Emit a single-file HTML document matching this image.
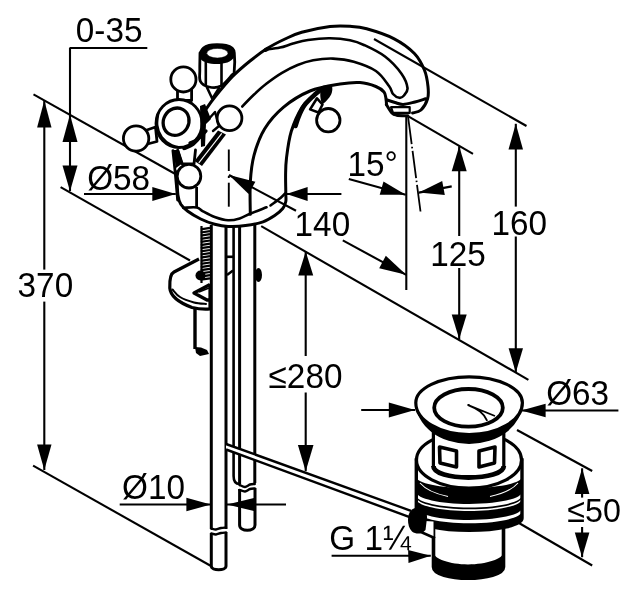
<!DOCTYPE html>
<html><head><meta charset="utf-8"><style>
html,body{margin:0;padding:0;background:#fff;}
svg{display:block;will-change:transform;}
text{font-family:"Liberation Sans",sans-serif;fill:#000;}
</style></head><body>
<svg width="639" height="600" viewBox="0 0 639 600">
<rect width="639" height="600" fill="#fff"/>
<line x1="33.5" y1="94.4" x2="178.0" y2="175.5" stroke="#000" stroke-width="2.1" />
<line x1="60.6" y1="187.2" x2="190.0" y2="260.5" stroke="#000" stroke-width="2.1" />
<line x1="33.1" y1="465.6" x2="211.0" y2="566.0" stroke="#000" stroke-width="2.1" />
<line x1="69.5" y1="48.0" x2="147.3" y2="48.0" stroke="#000" stroke-width="2.1" />
<line x1="70.0" y1="48.0" x2="70.0" y2="191.0" stroke="#000" stroke-width="2.1" />
<line x1="44.3" y1="100.6" x2="44.3" y2="269.6" stroke="#000" stroke-width="2.1" />
<line x1="44.3" y1="301.6" x2="44.3" y2="470.0" stroke="#000" stroke-width="2.1" />
<polygon points="44.3,100.6 51.5,127.5 37.1,127.5" fill="#000"/>
<polygon points="44.3,470.0 37.1,444.4 51.5,444.4" fill="#000"/>
<polygon points="70.0,114.4 77.5,142.0 62.5,142.0" fill="#000"/>
<polygon points="70.0,191.2 62.5,165.6 77.5,165.6" fill="#000"/>
<line x1="84.0" y1="194.0" x2="175.8" y2="194.0" stroke="#000" stroke-width="2.1" />
<polygon points="175.8,194.0 152.3,201.0 152.3,187.0" fill="#000"/>
<line x1="286.5" y1="194.0" x2="341.4" y2="194.0" stroke="#000" stroke-width="2.1" />
<polygon points="286.5,194.0 307.6,187.0 307.6,201.0" fill="#000"/>
<line x1="229.0" y1="175.0" x2="296.0" y2="210.8" stroke="#000" stroke-width="2.1" />
<line x1="342.8" y1="240.4" x2="406.2" y2="274.8" stroke="#000" stroke-width="2.1" />
<polygon points="229.0,175.0 255.4,181.7 248.6,193.9" fill="#000"/>
<polygon points="406.2,274.8 379.2,268.2 385.8,255.8" fill="#000"/>
<line x1="406.3" y1="116.0" x2="406.3" y2="290.0" stroke="#000" stroke-width="2.1" />
<line x1="408.1" y1="117" x2="420.5" y2="211.5" stroke="#000" stroke-width="1.8" stroke-dasharray="27.4,2.6,1.6,2.6"/>
<line x1="348.8" y1="179.0" x2="405.7" y2="194.8" stroke="#000" stroke-width="2.1" />
<polygon points="405.7,194.8 379.7,194.8 383.5,181.4" fill="#000"/>
<line x1="418.9" y1="192.6" x2="451.7" y2="186.4" stroke="#000" stroke-width="2.1" />
<polygon points="418.9,192.6 442.2,181.1 444.8,194.9" fill="#000"/>
<line x1="374.0" y1="39.0" x2="526.5" y2="126.0" stroke="#000" stroke-width="2.1" />
<line x1="408.8" y1="116.6" x2="473.0" y2="153.8" stroke="#000" stroke-width="2.1" />
<line x1="515.8" y1="123.8" x2="515.8" y2="206.6" stroke="#000" stroke-width="2.1" />
<line x1="515.8" y1="236.5" x2="515.8" y2="372.5" stroke="#000" stroke-width="2.1" />
<polygon points="515.8,123.8 523.0,149.5 508.5,149.5" fill="#000"/>
<polygon points="515.8,372.5 508.6,348.2 523.0,348.2" fill="#000"/>
<line x1="459.2" y1="146.2" x2="459.2" y2="236.0" stroke="#000" stroke-width="2.1" />
<line x1="459.2" y1="268.0" x2="459.2" y2="339.0" stroke="#000" stroke-width="2.1" />
<polygon points="459.2,146.2 466.7,171.2 451.7,171.2" fill="#000"/>
<polygon points="459.2,339.0 451.7,314.5 466.7,314.5" fill="#000"/>
<line x1="261.2" y1="226.2" x2="528.4" y2="379.8" stroke="#000" stroke-width="2.1" />
<line x1="305.7" y1="251.5" x2="305.7" y2="356.0" stroke="#000" stroke-width="2.1" />
<line x1="305.7" y1="392.5" x2="305.7" y2="471.2" stroke="#000" stroke-width="2.1" />
<polygon points="305.7,251.5 313.2,275.5 298.2,275.5" fill="#000"/>
<polygon points="305.7,471.2 297.9,445.0 313.5,445.0" fill="#000"/>
<line x1="361.2" y1="410.0" x2="415.0" y2="410.0" stroke="#000" stroke-width="2.1" />
<polygon points="415.0,410.0 388.8,417.5 388.8,402.5" fill="#000"/>
<line x1="521.2" y1="410.5" x2="618.4" y2="410.5" stroke="#000" stroke-width="2.1" />
<polygon points="521.2,410.5 545.6,403.7 545.6,417.3" fill="#000"/>
<line x1="119.7" y1="504.5" x2="210.8" y2="504.5" stroke="#000" stroke-width="2.1" />
<polygon points="210.8,504.5 186.4,511.3 186.4,497.7" fill="#000"/>
<line x1="227.0" y1="504.5" x2="286.0" y2="504.5" stroke="#000" stroke-width="2.1" />
<polygon points="227.0,504.5 255.0,497.7 255.0,511.3" fill="#000"/>
<line x1="331.6" y1="555.8" x2="430.8" y2="555.8" stroke="#000" stroke-width="2.1" />
<polygon points="430.8,555.8 408.5,563.1 408.1,549.9" fill="#000"/>
<line x1="582.1" y1="468.3" x2="582.1" y2="497.6" stroke="#000" stroke-width="2.1" />
<line x1="582.1" y1="527.0" x2="582.1" y2="557.2" stroke="#000" stroke-width="2.1" />
<polygon points="582.1,468.3 589.4,494.0 574.8,494.0" fill="#000"/>
<polygon points="582.1,557.2 574.8,532.5 589.4,532.5" fill="#000"/>
<line x1="517.0" y1="430.0" x2="592.2" y2="471.0" stroke="#000" stroke-width="2.1" />
<line x1="512.0" y1="519.0" x2="592.2" y2="565.5" stroke="#000" stroke-width="2.1" />
<text transform="translate(75.8,42.1) scale(1,1.045)" font-size="33.3">0-35</text>
<text transform="translate(87.2,189.8) scale(1,1.045)" font-size="33.3">&#216;58</text>
<text transform="translate(17.6,297.0) scale(1,1.045)" font-size="33.3">370</text>
<text transform="translate(347.4,175.6) scale(1,1.045)" font-size="33.3">15°</text>
<text transform="translate(294.6,235.6) scale(1,1.045)" font-size="33.3">140</text>
<text transform="translate(430.3,265.6) scale(1,1.045)" font-size="33.3">125</text>
<text transform="translate(491.4,235.0) scale(1,1.045)" font-size="33.3">160</text>
<text transform="translate(268.6,387.5) scale(1,1.045)" font-size="33.3">&#8804;280</text>
<text transform="translate(546.2,405.3) scale(1,1.045)" font-size="33.3">&#216;63</text>
<text transform="translate(122.0,498.7) scale(1,1.045)" font-size="33.3">&#216;10</text>
<text transform="translate(329.3,549.5) scale(1,1.045)" font-size="33.3">G 1&#188;</text>
<text transform="translate(567.3,522.0) scale(1,1.045)" font-size="32.3">&#8804;50</text>
<path d="M205.5 110.0 C207.0 107.9 210.0 103.1 214.5 97.5 C219.0 91.9 226.6 82.6 232.5 76.5 C238.4 70.4 244.2 65.7 250.0 61.0 C255.8 56.4 261.2 52.3 267.0 48.6 C272.8 44.9 279.2 41.7 285.0 39.0 C290.8 36.3 294.2 34.4 301.7 32.3 C309.2 30.2 321.9 27.5 330.0 26.5 C338.1 25.5 343.9 25.9 350.0 26.3 C356.1 26.7 359.3 26.7 366.7 28.8 C374.1 30.9 386.2 34.7 394.2 38.8 C402.1 42.9 409.4 48.3 414.4 53.5 C419.4 58.7 422.1 64.5 424.4 70.0 C426.7 75.5 427.5 81.7 428.0 86.5 C428.5 91.3 428.8 94.9 427.6 98.8 C426.4 102.7 423.5 107.6 421.0 110.0 C418.5 112.4 414.0 112.5 412.6 113.0" fill="none" stroke="#000" stroke-width="3.0" stroke-linecap="round" stroke-linejoin="round" />
<path d="M266.0 49.5 C268.3 49.2 275.5 48.6 280.0 47.6 C284.5 46.6 288.3 44.9 293.0 43.6 C297.7 42.3 301.8 40.9 308.0 40.0 C314.2 39.1 323.0 38.2 330.0 38.3 C337.0 38.3 344.2 39.1 350.0 40.3 C355.8 41.4 358.7 42.5 364.5 45.2 C370.3 47.9 378.8 51.8 385.0 56.5 C391.2 61.2 397.8 68.5 401.5 73.7 C405.2 79.0 407.1 84.4 407.5 88.0 C407.9 91.6 405.4 93.9 404.0 95.5 C402.6 97.1 401.2 98.0 399.4 97.8 C397.6 97.5 394.7 96.0 393.0 94.0 C391.3 92.0 391.9 89.8 389.0 86.0 C386.1 82.2 381.8 75.0 375.9 71.0 C370.0 67.0 360.9 63.9 353.8 61.8 C346.7 59.7 339.8 58.9 333.0 58.6 C326.2 58.4 319.1 59.2 313.2 60.3 C307.3 61.4 302.8 62.9 297.6 65.0 C292.4 67.1 287.2 69.8 282.0 72.9 C276.8 76.0 271.0 80.2 266.3 83.8 C261.6 87.4 257.8 91.0 253.8 94.8 C249.8 98.6 244.2 104.5 242.3 106.5" fill="none" stroke="#000" stroke-width="2.6" stroke-linecap="round" stroke-linejoin="round" />
<path d="M386.5 104.5 C386.4 103.5 386.4 100.9 386.0 98.8 C385.6 96.7 385.7 94.0 384.0 92.0 C382.3 90.0 379.9 88.1 375.9 86.5 C371.9 84.9 366.0 82.9 360.0 82.5 C354.0 82.1 348.3 82.6 340.0 84.0 C331.7 85.4 319.4 87.1 310.0 91.0 C300.6 94.9 290.9 101.0 283.3 107.3 C275.8 113.6 269.6 120.7 264.7 128.7 C259.8 136.7 256.4 146.4 254.0 155.3 C251.6 164.2 250.9 172.2 250.3 182.0 C249.7 191.8 250.3 208.9 250.3 214.3" fill="none" stroke="#000" stroke-width="3.0" stroke-linecap="round" stroke-linejoin="round" />
<path d="M386.3 99.7 C387.8 100.2 392.2 101.7 395.0 102.5 C397.8 103.3 399.9 104.5 403.2 104.4 C406.5 104.3 411.2 102.9 415.0 102.0 C418.8 101.1 423.9 99.3 425.7 98.8" fill="none" stroke="#000" stroke-width="3.0" stroke-linecap="round" stroke-linejoin="round" />
<path d="M386.3 104.4 C387.2 105.8 390.2 111.1 391.9 112.9 C393.6 114.7 393.9 114.7 396.6 115.2 C399.3 115.7 406.0 115.6 407.9 115.7" fill="none" stroke="#000" stroke-width="3.0" stroke-linecap="round" stroke-linejoin="round" />
<polygon points="391.0,107.2 409.7,107.2 409.7,112.9 393.0,112.9" fill="none" stroke="#000" stroke-width="2.2" stroke-linejoin="round" stroke-linecap="round"/>
<path d="M320.7 89.7 C319.3 90.9 315.4 93.9 312.3 96.8 C309.2 99.7 305.5 101.5 302.0 107.3 C298.5 113.0 293.9 122.9 291.3 131.3 C288.7 139.8 287.4 150.7 286.5 158.0 C285.6 165.3 285.7 169.1 285.6 175.0 C285.5 180.9 285.8 188.9 285.8 193.3 C285.8 197.7 286.3 199.0 285.8 201.5 C285.3 204.0 284.7 206.2 282.8 208.5 C280.9 210.8 278.0 213.3 274.7 215.5 C271.4 217.7 267.9 220.1 263.0 221.8 C258.1 223.5 251.3 224.8 245.5 225.6 C239.7 226.4 233.1 226.6 228.0 226.4 C222.9 226.2 219.2 225.4 214.7 224.2 C210.1 223.0 205.2 221.2 200.7 219.0 C196.2 216.8 191.1 213.8 187.8 211.3 C184.5 208.9 182.5 207.0 180.8 204.3 C179.2 201.6 178.6 200.4 177.9 195.0 C177.2 189.6 177.0 175.6 176.8 171.7" fill="none" stroke="#000" stroke-width="3.0" stroke-linecap="round" stroke-linejoin="round" />
<path d="M183.2 207.8 C185.4 207.8 193.3 206.9 196.6 207.5 C199.9 208.1 200.0 209.7 203.0 211.3 C206.0 212.9 210.5 215.5 214.7 217.0 C218.9 218.5 223.8 220.1 228.0 220.3 C232.2 220.5 235.8 219.6 239.7 218.4 C243.6 217.2 246.8 215.0 251.3 213.2 C255.8 211.3 264.0 208.3 266.5 207.3" fill="none" stroke="#000" stroke-width="2.6" stroke-linecap="round" stroke-linejoin="round" />
<path d="M270.5 205.5 C272.2 204.2 278.1 200.0 280.5 198.0 C282.9 196.0 284.4 194.1 285.2 193.3" fill="none" stroke="#000" stroke-width="2.6" stroke-linecap="round" stroke-linejoin="round" />
<line x1="196.6" y1="187.0" x2="196.6" y2="207.5" stroke="#000" stroke-width="2.8" />
<line x1="228.8" y1="149.5" x2="228.8" y2="171.0" stroke="#000" stroke-width="1.9" />
<line x1="228.8" y1="175.8" x2="228.8" y2="178.0" stroke="#000" stroke-width="1.9" />
<line x1="228.8" y1="182.7" x2="228.8" y2="206.7" stroke="#000" stroke-width="1.9" />
<ellipse cx="266.5" cy="49.5" rx="3.6" ry="1.9" fill="#000" transform="rotate(-28 266.5 49.5)"/>
<path d="M200.0 53.0 C200.6 52.2 202.0 49.3 203.5 48.0 C205.0 46.7 206.8 45.9 209.0 45.3 C211.2 44.7 214.2 44.6 217.0 44.6 C219.8 44.6 223.5 44.7 226.0 45.3 C228.5 45.9 230.6 46.7 232.0 48.0 C233.4 49.3 233.9 49.1 234.3 53.0 C234.7 56.9 234.6 67.9 234.2 71.6 C233.8 75.3 234.2 72.6 232.0 75.0 C229.8 77.4 224.8 84.0 221.0 86.0 C217.2 88.0 212.5 87.8 209.1 87.0 C205.7 86.2 201.9 84.1 200.4 81.3 C198.9 78.5 199.9 74.7 199.8 70.0 C199.7 65.3 200.0 55.8 200.0 53.0" fill="#fff" stroke="#000" stroke-width="2.8" stroke-linecap="round" stroke-linejoin="round" />
<path d="M200,52 C203,47 209,45 217,45 C226,45 232,47.5 234.3,52 L234.3,57 C231,62 225,64 217,64 C209,64 202,62 200,58 Z" fill="#000"/>
<ellipse cx="217.4" cy="53.2" rx="10.6" ry="4.8" fill="#fff" stroke="#000" stroke-width="0.5" transform="rotate(0 217.4 53.2)"/>
<line x1="205.8" y1="62.0" x2="205.8" y2="85.5" stroke="#000" stroke-width="2.6" />
<line x1="221.5" y1="63.0" x2="221.5" y2="86.5" stroke="#000" stroke-width="2.6" />
<polyline points="207.0,87.5 212.3,98.7 218.8,88.5" fill="none" stroke="#000" stroke-width="2.6" stroke-linejoin="round" stroke-linecap="round"/>
<polyline points="177.5,90.0 177.5,100.5 191.6,100.5 191.6,90.0" fill="#fff" stroke="#000" stroke-width="2.8" stroke-linejoin="round" stroke-linecap="round"/>
<polyline points="145.5,130.5 155.5,127.0 157.0,141.5 147.5,144.0" fill="#fff" stroke="#000" stroke-width="2.8" stroke-linejoin="round" stroke-linecap="round"/>
<polyline points="207.0,121.0 215.0,112.0 219.0,126.0 213.0,131.0" fill="#fff" stroke="#000" stroke-width="2.4" stroke-linejoin="round" stroke-linecap="round"/>
<polyline points="177.6,150.0 182.3,164.0 194.0,164.0 195.5,150.0" fill="#fff" stroke="#000" stroke-width="2.8" stroke-linejoin="round" stroke-linecap="round"/>
<ellipse cx="179.0" cy="123.5" rx="23.0" ry="24.0" fill="#fff" stroke="#000" stroke-width="2.8" transform="rotate(0 179.0 123.5)"/>
<path d="M158.8 112.0 C158.6 114.2 157.0 120.8 157.5 125.0 C158.0 129.2 159.6 133.7 162.0 137.0 C164.4 140.3 168.3 143.2 172.0 145.0 C175.7 146.8 182.0 147.1 184.0 147.5" fill="none" stroke="#000" stroke-width="1.8" stroke-linecap="round" stroke-linejoin="round" />
<ellipse cx="176.1" cy="121.7" rx="12.6" ry="14.0" fill="#fff" stroke="#000" stroke-width="3.3" transform="rotate(30 176.1 121.7)"/>
<path d="M201.5 113.0 C201.8 114.8 203.4 120.2 203.2 124.0 C203.0 127.8 202.2 132.1 200.5 135.5 C198.8 138.9 195.8 142.3 193.0 144.5 C190.2 146.7 185.5 147.8 184.0 148.5" fill="none" stroke="#000" stroke-width="3.4" stroke-linecap="round" stroke-linejoin="round" />
<circle cx="183.4" cy="79.4" r="12.6" fill="#fff" stroke="#000" stroke-width="2.8"/>
<circle cx="136.1" cy="138.5" r="12.7" fill="#fff" stroke="#000" stroke-width="2.8"/>
<circle cx="229.5" cy="118.3" r="12.4" fill="#fff" stroke="#000" stroke-width="2.8"/>
<path d="M172.9 150.7 C173.3 154.3 174.4 164.4 175.2 172.6 C176.0 180.8 177.2 195.4 177.6 200.0" fill="none" stroke="#000" stroke-width="2.8" stroke-linecap="round" stroke-linejoin="round" />
<path d="M173,150 L179,150 L183,163 L176,168 Z" fill="#000"/>
<polygon points="194.5,161 218,130.5 226,134.5 202,166" fill="#000"/>
<line x1="198.8" y1="162.8" x2="221.8" y2="133.3" stroke="#fff" stroke-width="1.1"/>
<path d="M200,106 L205,104 L211,119 L206,124 L205,146 L201,147 Z" fill="#000"/>
<path d="M190.0 143.0 C191.3 142.3 195.3 141.0 198.0 139.0 C200.7 137.0 204.7 132.3 206.0 131.0" fill="none" stroke="#000" stroke-width="3.2" stroke-linecap="round" stroke-linejoin="round" />
<circle cx="189.0" cy="176.2" r="11.8" fill="#fff" stroke="#000" stroke-width="2.8"/>
<path d="M321.5,86.5 C325,85 330,84.5 332,86 C333,90 332,95 328,99 C326,101.5 324,103 322.5,104.5 C320,100 319.5,92 321.5,86.5 Z" fill="#000"/>
<polygon points="310.1,109.4 317.0,98.3 322.5,104.5 318.5,112.5" fill="#fff" stroke="#000" stroke-width="2.6" stroke-linejoin="round" stroke-linecap="round"/>
<circle cx="328.3" cy="120.2" r="11.7" fill="#fff" stroke="#000" stroke-width="2.8"/>
<path d="M321.0 89.5 C319.7 90.6 315.8 93.5 313.0 96.3 C310.2 99.0 306.4 102.5 304.0 106.0 C301.6 109.5 299.9 113.7 298.5 117.0 C297.1 120.3 296.0 124.5 295.5 126.0" fill="none" stroke="#000" stroke-width="4.6" stroke-linecap="round" stroke-linejoin="round" />
<line x1="211.3" y1="225.0" x2="211.3" y2="529.0" stroke="#000" stroke-width="3.0" />
<line x1="226.0" y1="225.0" x2="226.0" y2="529.0" stroke="#000" stroke-width="3.0" />
<path d="M211.3 533.5 C212.1 533.7 214.4 534.6 216.0 534.5 C217.6 534.4 219.3 533.3 221.0 533.0 C222.7 532.7 225.2 532.6 226.0 532.5" fill="none" stroke="#000" stroke-width="2.4" stroke-linecap="round" stroke-linejoin="round" />
<path d="M211.3 528.7 C212.1 528.8 214.4 529.6 216.0 529.5 C217.6 529.4 219.3 528.3 221.0 528.0 C222.7 527.7 225.2 527.6 226.0 527.5" fill="none" stroke="#000" stroke-width="2.4" stroke-linecap="round" stroke-linejoin="round" />
<path d="M211.3,533 L211.3,566 C211.3,571 226,571 226,566 L226,532" fill="none" stroke="#000" stroke-width="3"/>
<path d="M233.6,225 L233.6,476 C233.6,482 236,484 239.5,484" fill="none" stroke="#000" stroke-width="2.6"/>
<line x1="239.6" y1="225.0" x2="239.6" y2="484.0" stroke="#000" stroke-width="3.0" />
<line x1="254.8" y1="225.0" x2="254.8" y2="483.0" stroke="#000" stroke-width="3.0" />
<path d="M239.6 485.0 C240.5 485.3 243.3 487.1 245.0 487.0 C246.7 486.9 248.4 485.0 250.0 484.5 C251.6 484.0 254.0 484.1 254.8 484.0" fill="none" stroke="#000" stroke-width="2.4" stroke-linecap="round" stroke-linejoin="round" />
<path d="M239.6 490.0 C240.5 490.2 243.3 491.7 245.0 491.5 C246.7 491.3 248.4 489.5 250.0 489.0 C251.6 488.5 254.0 488.6 254.8 488.5" fill="none" stroke="#000" stroke-width="2.4" stroke-linecap="round" stroke-linejoin="round" />
<path d="M239.6,489 L239.6,525 C239.6,532 255,532 255,525 L255,488" fill="none" stroke="#000" stroke-width="3"/>
<line x1="226.0" y1="256.8" x2="233.6" y2="256.8" stroke="#000" stroke-width="2.6" />
<line x1="227.0" y1="275.0" x2="233.0" y2="270.5" stroke="#000" stroke-width="2.4" />
<ellipse cx="258.5" cy="275" rx="3.5" ry="7" fill="#000"/>
<path d="M199,259 L174,272 C170,274 169.5,280 169.8,288 C170.5,296 180,303 192,307.5 C198,309 204,309.5 210,309 L210,284" fill="#fff" stroke="#000" stroke-width="3.2" stroke-linejoin="round"/>
<path d="M172.5 289.5 C173.8 290.8 176.4 294.8 180.0 297.0 C183.6 299.2 189.7 301.3 194.0 302.5 C198.3 303.7 204.0 303.8 206.0 304.0" fill="none" stroke="#000" stroke-width="2.0" stroke-linecap="round" stroke-linejoin="round" />
<path d="M210,284.5 L194,293 L207,300 L210,300" fill="none" stroke="#000" stroke-width="3.4" stroke-linejoin="round"/>
<line x1="199.0" y1="292.0" x2="209.0" y2="288.0" stroke="#000" stroke-width="1.6" />
<line x1="201.5" y1="226.0" x2="201.5" y2="283.0" stroke="#000" stroke-width="2.2" />
<line x1="200.8" y1="229.3" x2="210.0" y2="227.9" stroke="#000" stroke-width="2.2" />
<line x1="200.8" y1="232.5" x2="210.0" y2="231.1" stroke="#000" stroke-width="2.2" />
<line x1="200.8" y1="235.6" x2="210.0" y2="234.2" stroke="#000" stroke-width="2.2" />
<line x1="200.8" y1="238.8" x2="210.0" y2="237.3" stroke="#000" stroke-width="2.2" />
<line x1="200.8" y1="241.9" x2="210.0" y2="240.5" stroke="#000" stroke-width="2.2" />
<line x1="200.8" y1="245.1" x2="210.0" y2="243.7" stroke="#000" stroke-width="2.2" />
<line x1="200.8" y1="248.2" x2="210.0" y2="246.8" stroke="#000" stroke-width="2.2" />
<line x1="200.8" y1="251.4" x2="210.0" y2="250.0" stroke="#000" stroke-width="2.2" />
<line x1="200.8" y1="254.5" x2="210.0" y2="253.1" stroke="#000" stroke-width="2.2" />
<line x1="200.8" y1="257.7" x2="210.0" y2="256.2" stroke="#000" stroke-width="2.2" />
<line x1="200.8" y1="260.8" x2="210.0" y2="259.4" stroke="#000" stroke-width="2.2" />
<line x1="200.8" y1="263.9" x2="210.0" y2="262.5" stroke="#000" stroke-width="2.2" />
<line x1="200.8" y1="267.1" x2="210.0" y2="265.7" stroke="#000" stroke-width="2.2" />
<line x1="200.8" y1="270.2" x2="210.0" y2="268.8" stroke="#000" stroke-width="2.2" />
<line x1="200.8" y1="273.4" x2="210.0" y2="272.0" stroke="#000" stroke-width="2.2" />
<line x1="200.8" y1="276.6" x2="210.0" y2="275.1" stroke="#000" stroke-width="2.2" />
<line x1="200.8" y1="279.7" x2="210.0" y2="278.3" stroke="#000" stroke-width="2.2" />
<ellipse cx="200.5" cy="275.5" rx="5" ry="5" fill="#000"/>
<line x1="195.0" y1="309.0" x2="195.0" y2="349.0" stroke="#000" stroke-width="3.4" />
<path d="M195,347 L201,347.5 L207,350 L209,354 L200,356 L196,353 Z" fill="#000"/>
<polygon points="226,444 411,510.8 411,517.6 226,449.5" fill="#fff"/>
<line x1="226.0" y1="444.0" x2="411.0" y2="510.8" stroke="#000" stroke-width="2.4" />
<line x1="226.0" y1="449.5" x2="411.0" y2="517.6" stroke="#000" stroke-width="2.4" />
<path d="M433.5,520 L433.5,567 C433.5,574 450,578.3 468,578.3 C486,578.3 503.5,574 503.5,567 L503.5,520 Z" fill="#fff" stroke="#000" stroke-width="3.6"/>
<path d="M433.5,552 C433.5,559 450,564.4 468,564.4 C486,564.4 503.5,559 503.5,552 L503.5,567 C503.5,574 486,578.3 468,578.3 C450,578.3 433.5,574 433.5,567 Z" fill="#000"/>
<path d="M416.3,460 L416.3,518.3 C416.3,524.9 440.1,530.3 469.1,530.3 C498.2,530.3 522.0,524.9 522.0,518.3 L522,460 Z" fill="#fff" stroke="#000" stroke-width="3.4"/>
<path d="M416.3,477.0 C416.3,483.1 440.1,488.0 469.1,488.0 C498.2,488.0 522.0,483.1 522.0,477.0 L522,492.0 C522.0,498.6 498.2,504.0 469.1,504.0 C440.1,504.0 416.3,498.6 416.3,492.0 Z" fill="#000"/>
<path d="M416.3,495.6 C416.3,502.2 440.1,507.6 469.1,507.6 C498.2,507.6 522.0,502.2 522.0,495.6 L522,497.3 C522.0,503.9 498.2,509.3 469.1,509.3 C440.1,509.3 416.3,503.9 416.3,497.3 Z" fill="#000"/>
<path d="M416.3,499.0 C416.3,505.6 440.1,511.0 469.1,511.0 C498.2,511.0 522.0,505.6 522.0,499.0 L522,508.0 C522.0,514.6 498.2,520.0 469.1,520.0 C440.1,520.0 416.3,514.6 416.3,508.0 Z" fill="#000"/>
<path d="M416.3,511.3 C416.3,517.9 440.1,523.3 469.1,523.3 C498.2,523.3 522.0,517.9 522.0,511.3 L522,518.3 C522.0,524.9 498.2,530.3 469.1,530.3 C440.1,530.3 416.3,524.9 416.3,518.3 Z" fill="#000"/>
<path d="M420,483 C426,490 436,494 448,496.5" fill="none" stroke="#fff" stroke-width="1.1"/>
<path d="M518,483 C512,490 502,494 490,496.5" fill="none" stroke="#fff" stroke-width="1.1"/>
<ellipse cx="469.0" cy="460.0" rx="52.5" ry="28.0" fill="#fff" stroke="#000" stroke-width="3.2" transform="rotate(0 469.0 460.0)"/>
<path d="M433.4,420 L433.4,466 C433.4,473.5 450,477.5 468.5,477.5 C487,477.5 503.8,473.5 503.8,466 L503.8,420 Z" fill="#fff" stroke="#000" stroke-width="3.2"/>
<path d="M433.4,466 C433.4,473.5 450,477.5 468.5,477.5 C487,477.5 503.8,473.5 503.8,466" fill="none" stroke="#000" stroke-width="4.8"/>
<polygon points="439.5,447 456.5,451 456.5,467 440,463" fill="#fff" stroke="#000" stroke-width="3.6" stroke-linejoin="round"/>
<polygon points="479,451 495,447 494.5,463 479,467" fill="#fff" stroke="#000" stroke-width="3.6" stroke-linejoin="round"/>
<path d="M415.8,402.8 A53.3,41.2 0 0 0 522.4,402.8 A53.3,31.7 0 0 1 415.8,402.8 Z" fill="#000"/>
<path d="M415.8,402.8 A53.3,26 0 0 1 522.4,402.8 A53.3,31.7 0 0 1 415.8,402.8 Z" fill="#fff" stroke="#000" stroke-width="3.2"/>
<ellipse cx="468.5" cy="407.8" rx="34.3" ry="18.8" fill="#fff" stroke="#000" stroke-width="3.8" transform="rotate(0 468.5 407.8)"/>
<path d="M467.6,404.8 L495,416 M467.6,404.8 C478,409 484,413 487.2,420.9" fill="none" stroke="#000" stroke-width="1.8"/>
<path d="M425,521 L433.5,521.5 L433.5,537 L421,532 Z" fill="#fff"/>
<path d="M408,520 C408,512 412,507.5 418,507.5 C423,507.5 427.5,512 427,518 L425.5,530 C422,534.5 416,534.5 412,531.5 C409,528.5 408,524 408,520 Z" fill="#000"/>
<line x1="421.0" y1="532.0" x2="435.0" y2="538.3" stroke="#000" stroke-width="2.6" />
</svg></body></html>
